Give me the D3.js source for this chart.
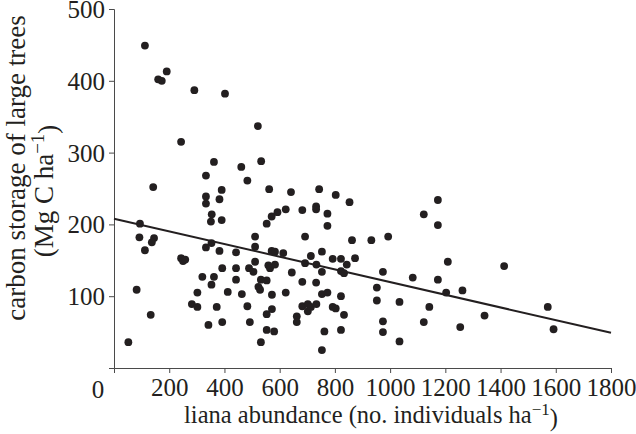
<!DOCTYPE html>
<html>
<head>
<meta charset="utf-8">
<script src="https://cdn.jsdelivr.net/npm/d3@7"></script>
<style>
  body { margin: 0; background: #fff; }
  text { font-family: "Liberation Serif", "Times New Roman", serif; fill: #231f20; }
</style>
</head>
<body>
<div id="chart"></div>
<script>
const width = 636;
const height = 434;

// liana abundance (x) and carbon storage (y) for each plot
const lianaAbundance = [
    112, 160, 173, 191, 291, 402, 243, 521, 533, 461, 362, 333, 483,
    142, 390, 333, 333, 382, 562, 354, 351, 390, 571, 553, 94, 92,
    145, 137, 112, 353, 333, 511, 511, 382, 442, 571, 243, 250, 258,
    511, 559, 565, 392, 442, 489, 505, 320, 362, 442, 532, 553, 353,
    523, 529, 82, 302, 412, 463, 572, 282, 302, 372, 483, 572, 133,
    553, 392, 342, 492, 553, 580, 52, 532, 641, 743, 803, 853, 592,
    622, 682, 732, 732, 773, 773, 692, 862, 932, 993, 1122, 1173, 1173,
    583, 613, 583, 713, 753, 692, 733, 792, 822, 843, 873, 753, 822,
    833, 644, 682, 732, 974, 1082, 1173, 1209, 952, 622, 753, 773, 822,
    952, 1034, 1203, 682, 702, 713, 733, 702, 792, 803, 833, 1142, 662,
    662, 974, 1122, 762, 822, 974, 1034, 753, 1413, 1262, 1342, 1254, 1571,
    1592
];
const carbonStorage = [
    449, 402, 400, 413, 387, 382, 315, 337, 288, 280, 287, 268, 261,
    252, 248, 239, 229, 235, 249, 214, 204, 206, 211, 201, 201, 182,
    181, 175, 164, 174, 168, 183, 169, 163, 161, 163, 153, 149, 151,
    148, 143, 139, 139, 139, 139, 134, 127, 127, 123, 123, 122, 116,
    113, 109, 109, 105, 106, 103, 102, 89, 85, 85, 86, 82, 74,
    75, 64, 60, 64, 53, 51, 36, 36, 245, 249, 241, 231, 217,
    221, 220, 225, 221, 215, 198, 183, 178, 178, 183, 214, 234, 199,
    162, 160, 144, 156, 162, 146, 144, 152, 152, 144, 153, 134, 135,
    132, 133, 120, 119, 134, 126, 123, 148, 112, 105, 103, 105, 100,
    94, 92, 105, 86, 89, 85, 89, 79, 85, 83, 74, 85, 72,
    64, 65, 64, 51, 53, 50, 37, 25, 142, 108, 73, 57, 85,
    54
];

// fitted regression line, end points
const fitX = [0, 1800];
const fitY = [208, 49];

const xTicks = [200, 400, 600, 800, 1000, 1200, 1400, 1600, 1800];
const yTicks = [100, 200, 300, 400, 500];

const points = lianaAbundance.map((v, i) => ({ x: v, y: carbonStorage[i] }));

const x = d3.scaleLinear().domain([0, 1800]).range([114, 611]);
const y = d3.scaleLinear().domain([0, 500]).range([368, 9]);

const svg = d3.select("#chart")
    .append("svg")
    .attr("width", width)
    .attr("height", height);

const ink = "#231f20";

// x axis
const xAxis = svg.append("g")
    .attr("transform", `translate(0,${y(0)})`)
    .call(d3.axisBottom(x).tickValues(xTicks).tickFormat(d3.format("d"))
        .tickSize(5).tickSizeOuter(5).tickPadding(5));

// y axis
const yAxis = svg.append("g")
    .attr("transform", `translate(${x(0)},0)`)
    .call(d3.axisLeft(y).tickValues(yTicks).tickFormat(d3.format("d"))
        .tickSize(5).tickSizeOuter(5).tickPadding(4));

[xAxis, yAxis].forEach(a => {
    a.selectAll("path, line").attr("stroke", "#4a4a4a").attr("stroke-width", 1);
    a.selectAll("text")
        .style("font-family", "'Liberation Serif', serif")
        .style("font-size", "25px")
        .attr("fill", ink);
});
yAxis.selectAll("text").attr("dy", "0.34em");

// shared origin label
svg.append("text")
    .attr("x", 98)
    .attr("y", 398)
    .attr("text-anchor", "middle")
    .style("font-size", "25px")
    .text("0");

// points
svg.append("g")
    .selectAll("circle")
    .data(points)
    .join("circle")
    .attr("cx", d => x(d.x))
    .attr("cy", d => y(d.y))
    .attr("r", 3.9)
    .attr("fill", ink);

// regression line
svg.append("line")
    .attr("x1", x(fitX[0]))
    .attr("y1", y(fitY[0]))
    .attr("x2", x(fitX[1]))
    .attr("y2", y(fitY[1]))
    .attr("stroke", ink)
    .attr("stroke-width", 2);

// x axis title
const xt = svg.append("text")
    .attr("x", 371)
    .attr("y", 423)
    .attr("text-anchor", "middle")
    .style("font-size", "24.5px");
xt.append("tspan").text("liana abundance (no. individuals ha");
xt.append("tspan").attr("dy", "-0.45em").style("font-size", "17px").text("\u22121");
xt.append("tspan").attr("dy", "0.45em").text(")");

// y axis title, two lines
svg.append("text")
    .attr("transform", "translate(25,168) rotate(-90)")
    .attr("text-anchor", "middle")
    .style("font-size", "27px")
    .text("carbon storage of large trees");
const yt2 = svg.append("text")
    .attr("transform", "translate(53,191) rotate(-90)")
    .attr("text-anchor", "middle")
    .style("font-size", "27px");
yt2.append("tspan").text("(Mg C ha");
yt2.append("tspan").attr("dy", "-0.45em").style("font-size", "19px").text("\u22121");
yt2.append("tspan").attr("dy", "0.45em").text(")");
</script>
</body>
</html>
